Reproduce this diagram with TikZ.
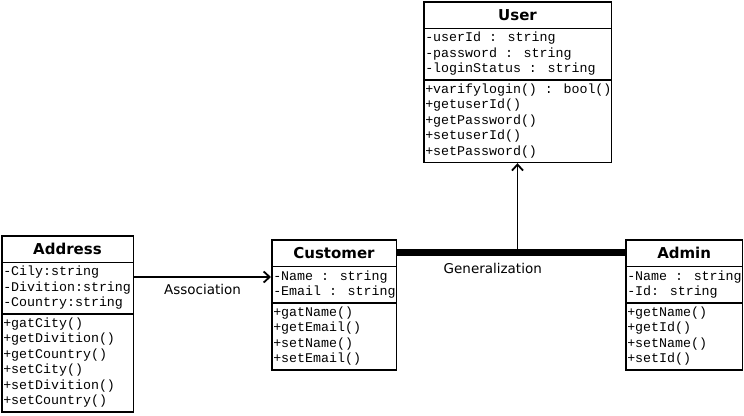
\documentclass[tikz,border=0pt]{standalone}
\usepackage{fontspec}
\setmainfont{DejaVu Sans}
\newfontfamily\classmono{Liberation Mono}
\usetikzlibrary{shapes.multipart}
\usetikzlibrary{arrows.meta, calc}
\newcommand{\classtitle}[1]{\rmfamily\bfseries\fontsize{15}{18}\selectfont\rule[-5pt]{0pt}{21pt}\makebox[\hsize][c]{#1}}

\begin{document}
\begin{tikzpicture}[x=1pt, y=-1pt,
    umlclass/.style={rectangle split, rectangle split parts=3, draw, line width=1.5pt,
        inner xsep=1.5pt, inner ysep=2pt, text width=#1, align=flush left, anchor=north west,
        font=\classmono\fontsize{13.3}{15.4}\selectfont},
    relation/.style={line width=1.6pt, -{Straight Barb[length=6pt, width=11pt, line width=1.8pt]}},
    genbar/.style={line width=7pt},
    relname/.style={font=\fontsize{13.5}{16}\selectfont}]

    \useasboundingbox (0,0) rectangle (744,415);

    \node[umlclass=184.5pt] (User) at (423,1) {\classtitle{User}
        \nodepart{two}\strut-userId : string\\-password : string\\-loginStatus : string\strut
        \nodepart{three}\strut\mbox{+varifylogin() : bool()}\\+getuserId()\\+getPassword()\\+setuserId()\\+setPassword()\strut};

    \node[umlclass=128.5pt] (Address) at (1,235) {\classtitle{Address}
        \nodepart{two}\strut-Cily:string\\-Divition:string\\-Country:string\strut
        \nodepart{three}\strut+gatCity()\\+getDivition()\\+getCountry()\\+setCity()\\+setDivition()\\+setCountry()\strut};

    \node[umlclass=121.5pt] (Customer) at (271,239.3) {\classtitle{Customer}
        \nodepart{two}\strut-Name : string\\\mbox{-Email : string}\strut
        \nodepart{three}\strut+gatName()\\+getEmail()\\+setName()\\+setEmail()\strut};

    \node[umlclass=113.8pt] (Admin) at (625,239.3) {\classtitle{Admin}
        \nodepart{two}\strut\mbox{-Name : string}\\-Id: string\strut
        \nodepart{three}\strut+getName()\\+getId()\\+setName()\\+setId()\strut};

    % association
    \coordinate (assocline) at (0,277);
    \draw[relation] (Address.east |- assocline) -- (Customer.west |- assocline)
        node[midway, below=3pt, relname] {Association};

    % generalization
    \coordinate (genleft) at ($(Customer.north east)!0.5!(Customer.text split east)$);
    \coordinate (genright) at ($(Admin.north west)!0.5!(Admin.text split west)$);
    \draw[genbar] (genleft) -- (genright) node[pos=0.42, below=3pt, relname] {Generalization};
    \draw[relation] (User.south |- genleft) -- (User.south);

\end{tikzpicture}
\end{document}
